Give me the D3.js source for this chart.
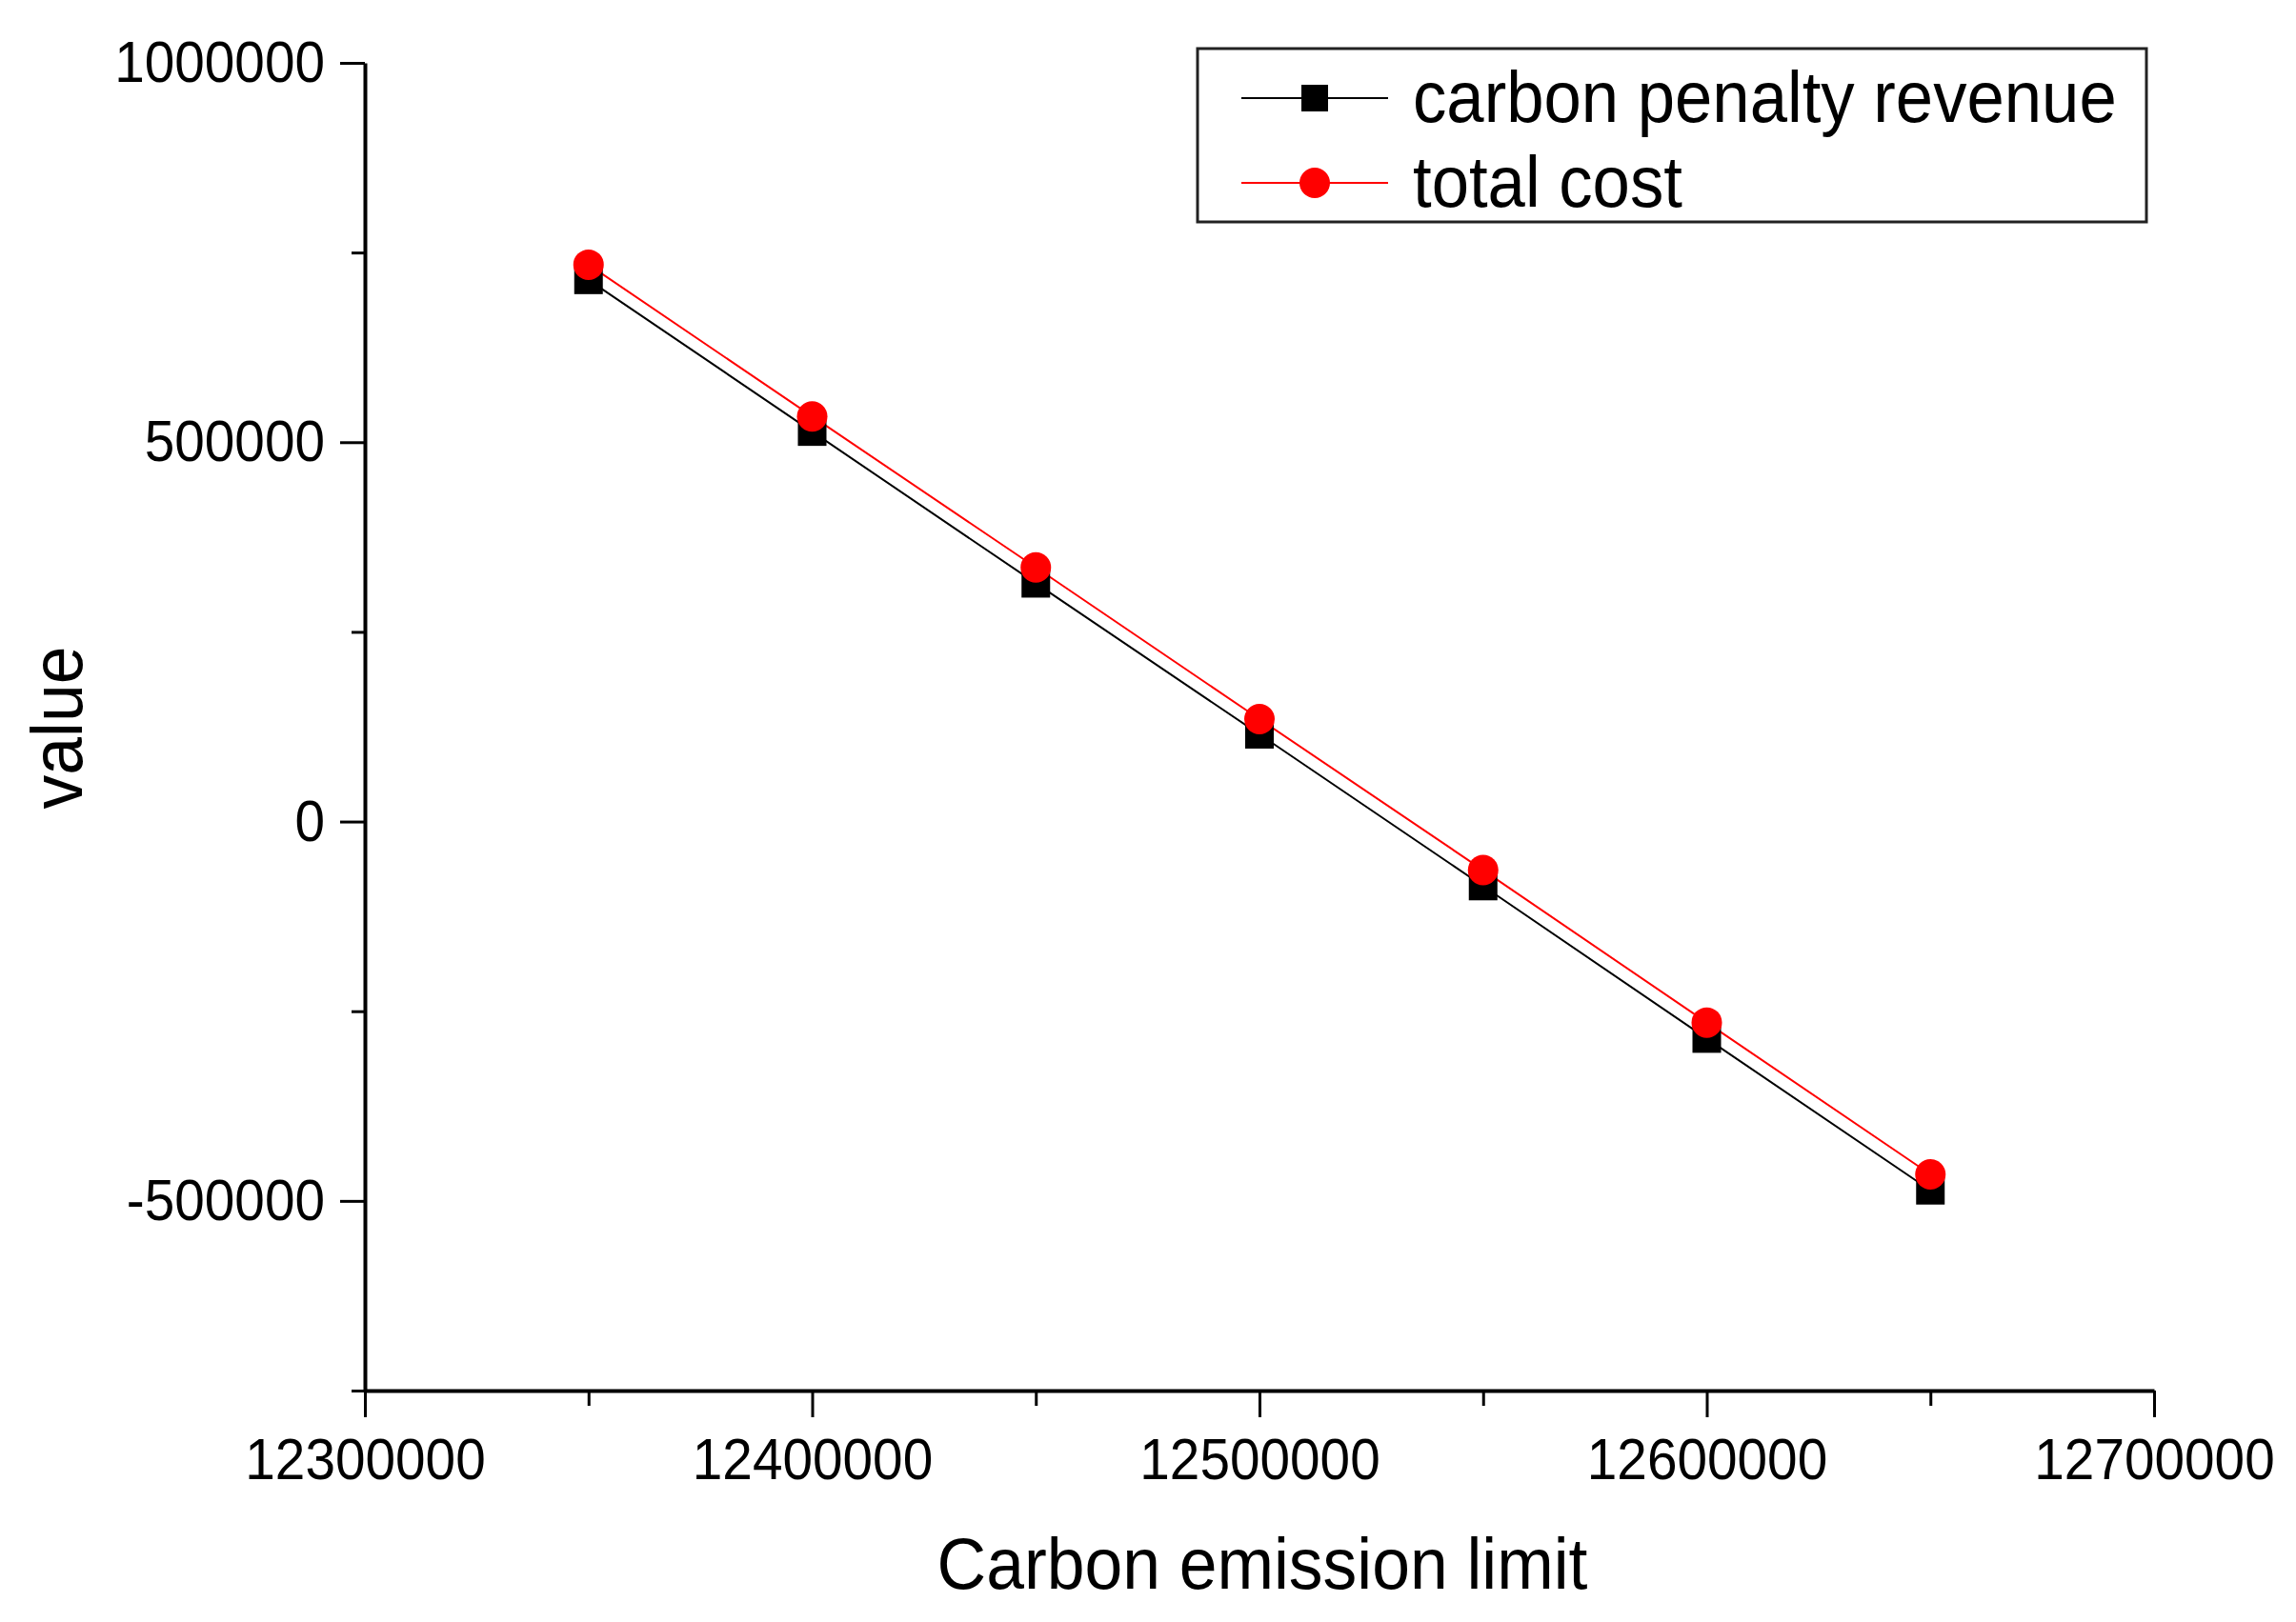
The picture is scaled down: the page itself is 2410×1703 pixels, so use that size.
<!DOCTYPE html>
<html>
<head>
<meta charset="utf-8">
<script src="https://cdn.jsdelivr.net/npm/d3@7"></script>
<style>
  body { margin: 0; background: #fff; }
  text { font-family: "Liberation Sans", Arial, sans-serif; fill: #000; }
</style>
</head>
<body>
<div id="chart"></div>
<script>
// carbon emission limit (x) and the two series
var limits = [12350000, 12400000, 12450000, 12500000, 12550000, 12600000, 12650000];
var penaltyRevenue = [714000, 514000, 314000, 115000, -85000, -286000, -486000];
var totalCost = [734000, 534000, 335000, 135000, -64000, -265000, -465000];

var xTicks = [12300000, 12400000, 12500000, 12600000, 12700000];
var xMinor = [12350000, 12450000, 12550000, 12650000];
var yTicks = [-500000, 0, 500000, 1000000];
var yMinor = [-750000, -250000, 250000, 750000];

var seriesNames = ["carbon penalty revenue", "total cost"];

var width = 2410, height = 1703;

var svg = d3.select("#chart").append("svg")
    .attr("width", width)
    .attr("height", height);

var x = d3.scaleLinear().domain([12300000, 12700000]).range([383, 2261]);
var y = d3.scaleLinear().domain([-750000, 1000000]).range([1460, 66]);

// plain hyphen for negatives, like the original
var fmt = function (d) { return String(d); };

// squeeze text horizontally a bit, the original font is narrower than Arial
function squeeze(sel, k) {
    sel.each(function () {
        var len = this.getComputedTextLength();
        d3.select(this).attr("textLength", len * k).attr("lengthAdjust", "spacingAndGlyphs");
    });
}

// minor ticks first
svg.append("g")
    .attr("transform", "translate(0,1460)")
    .call(d3.axisBottom(x).tickValues(xMinor).tickSize(16).tickFormat("").tickSizeOuter(0))
    .call(function (g) { g.select(".domain").remove(); })
    .selectAll("line").attr("stroke-width", 3);

svg.append("g")
    .attr("transform", "translate(383,0)")
    .call(d3.axisLeft(y).tickValues(yMinor).tickSize(14).tickFormat("").tickSizeOuter(0))
    .call(function (g) { g.select(".domain").remove(); })
    .selectAll("line").attr("stroke-width", 3);

var xAxis = svg.append("g")
    .attr("transform", "translate(0,1460)")
    .call(d3.axisBottom(x).tickValues(xTicks).tickSize(28).tickPadding(22).tickSizeOuter(0).tickFormat(fmt));
xAxis.select(".domain").attr("stroke-width", 4);
xAxis.selectAll(".tick line").attr("stroke-width", 3);
xAxis.selectAll("text").attr("font-size", 61).attr("font-family", "Liberation Sans").call(squeeze, 0.93);

var yAxis = svg.append("g")
    .attr("transform", "translate(383,0)")
    .call(d3.axisLeft(y).tickValues(yTicks).tickSize(26).tickPadding(16).tickSizeOuter(0).tickFormat(fmt));
yAxis.select(".domain").attr("stroke-width", 4);
yAxis.selectAll(".tick line").attr("stroke-width", 3);
yAxis.selectAll("text").attr("font-size", 61).attr("font-family", "Liberation Sans").call(squeeze, 0.93);

// axis titles
svg.append("text")
    .attr("x", 1325).attr("y", 1668)
    .attr("text-anchor", "middle")
    .attr("font-size", 76)
    .text("Carbon emission limit")
    .call(squeeze, 0.94);

svg.append("text")
    .attr("transform", "translate(86,764) rotate(-90)")
    .attr("text-anchor", "middle")
    .attr("font-size", 76)
    .text("value")
    .call(squeeze, 0.94);

// lines
var line = d3.line()
    .x(function (d, i) { return x(limits[i]); })
    .y(function (d) { return y(d); });

svg.append("path").datum(penaltyRevenue)
    .attr("d", line).attr("fill", "none").attr("stroke", "#000").attr("stroke-width", 2);
svg.append("path").datum(totalCost)
    .attr("d", line).attr("fill", "none").attr("stroke", "#ff0000").attr("stroke-width", 2);

// markers
svg.selectAll(".sq").data(penaltyRevenue).enter().append("rect")
    .attr("class", "sq")
    .attr("x", function (d, i) { return x(limits[i]) - 15; })
    .attr("y", function (d) { return y(d) - 15; })
    .attr("width", 30).attr("height", 30)
    .attr("fill", "#000");

svg.selectAll(".dot").data(totalCost).enter().append("circle")
    .attr("class", "dot")
    .attr("cx", function (d, i) { return x(limits[i]); })
    .attr("cy", function (d) { return y(d); })
    .attr("r", 16)
    .attr("fill", "#ff0000");

// legend
var legend = svg.append("g");
legend.append("rect")
    .attr("x", 1257).attr("y", 51).attr("width", 996).attr("height", 182)
    .attr("fill", "#fff").attr("stroke", "#222").attr("stroke-width", 3);

var rows = legend.selectAll(".row").data(seriesNames).enter().append("g")
    .attr("class", "row")
    .attr("transform", function (d, i) { return "translate(0," + (i * 89) + ")"; });

rows.append("line")
    .attr("x1", 1303).attr("x2", 1457).attr("y1", 103).attr("y2", 103)
    .attr("stroke", function (d, i) { return i ? "#ff0000" : "#000"; })
    .attr("stroke-width", 2);

rows.filter(function (d, i) { return i === 0; }).append("rect")
    .attr("x", 1366).attr("y", 89).attr("width", 28).attr("height", 28).attr("fill", "#000");
rows.filter(function (d, i) { return i === 1; }).append("circle")
    .attr("cx", 1380).attr("cy", 103).attr("r", 16).attr("fill", "#ff0000");

rows.append("text")
    .attr("x", 1483).attr("y", 128)
    .attr("font-size", 76)
    .text(function (d) { return d; })
    .call(squeeze, 0.93);
</script>
</body>
</html>
